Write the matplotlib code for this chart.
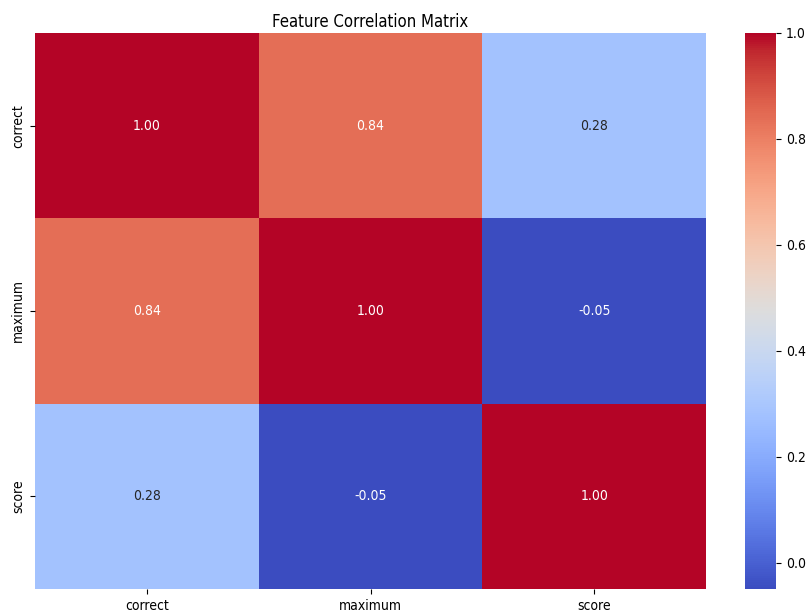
import numpy as np
import pandas as pd
import seaborn as sns
import matplotlib
matplotlib.use("Agg")
import matplotlib.pyplot as plt

features = ["correct", "maximum", "score"]
corr_values = [
    [1.00, 0.84, 0.28],
    [0.84, 1.00, -0.05],
    [0.28, -0.05, 1.00],
]

plt.rcParams['font.family'] = ['DejaVu Sans']
plt.rcParams['font.stretch'] = 'condensed'

corr = pd.DataFrame(corr_values, index=features, columns=features)

fig = plt.figure(figsize=(8.06, 6.10), dpi=100)
ax = fig.add_axes([35 / 806, 21 / 610, 671 / 806, 556 / 610])
cax = fig.add_axes([745 / 806, 21 / 610, 31 / 806, 556 / 610])

sns.heatmap(corr, annot=True, fmt=".2f", cmap="coolwarm", ax=ax, cbar_ax=cax)
ax.set_title("Feature Correlation Matrix", pad=4)

plt.savefig("out.png", dpi=100)
